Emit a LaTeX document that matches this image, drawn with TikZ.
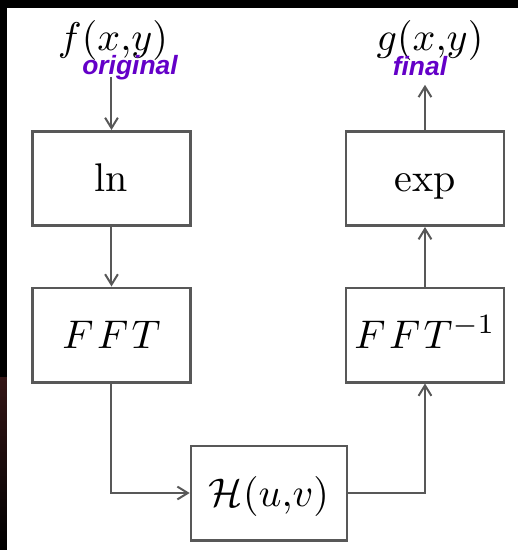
\documentclass[tikz,border=0pt]{standalone}
\usepackage{amsmath,amssymb}
\usepackage{fontspec}
\newfontfamily\tagfont{Liberation Sans}
\usetikzlibrary{arrows.meta,positioning}
\definecolor{tagpurple}{RGB}{100,0,200}
\definecolor{edgegray}{RGB}{88,88,88}
\definecolor{framered}{RGB}{52,22,22}

\begin{document}
\begin{tikzpicture}[
    x=0.25pt, y=-0.25pt,
    box/.style={rectangle, draw=edgegray, line width=0.65pt, minimum width=39.5pt, minimum height=23.6pt, inner sep=0pt, text height=8.6pt, text depth=2pt},
    arrow/.style={draw=edgegray, line width=0.5pt, -{Straight Barb[length=2.6pt, width=3.2pt]}},
    signal/.style={inner xsep=0pt, inner ysep=4pt},
    tag/.style={font=\tagfont\bfseries\itshape\fontsize{6.6}{7}\selectfont, text=tagpurple, inner sep=0pt}
]

% Frame round the page
\useasboundingbox (0,0) rectangle (518,550);
\fill[black] (0,0) rectangle (518,8);
\fill[black] (0,0) rectangle (7,377);
\shade[top color=framered, bottom color=black] (0,377) rectangle (7,550);

% Left column: log and transform
\node[signal] (input) at (113,40) {$f(x{,}y)$};
\node[box] (ln) at (111.5,178.5) {$\ln$};
\node[box] (fft) at (111.5,335) {$F\mkern1.5mu F\mkern1.5mu T$};

% Bottom: filter
\node[box, minimum width=39pt] (filter) at (269,493) {$\mathcal{H}(u{,}v)$};

% Right column: inverse transform and exp
\node[box] (ifft) at (425,335) {$F\mkern1.5mu F\mkern1.5mu T^{-1}$};
\node[box] (exp) at (425,178.5) {$\exp$};
\node[signal, inner ysep=6pt] (output) at (430,40) {$g(x{,}y)$};

% Arrows
\draw[arrow] (ln.north |- input.south) -- (ln.north);
\draw[arrow] (ln) -- (fft);
\draw[arrow] (fft) |- (filter);
\draw[arrow] (filter) -| (ifft);
\draw[arrow] (ifft) -- (exp);
\draw[arrow] (exp) -- (exp |- output.south);

% Tags
\node[tag] (orig) at (130,68) {original};
\node[tag] (fin) at (420,66) {final};

\end{tikzpicture}
\end{document}
